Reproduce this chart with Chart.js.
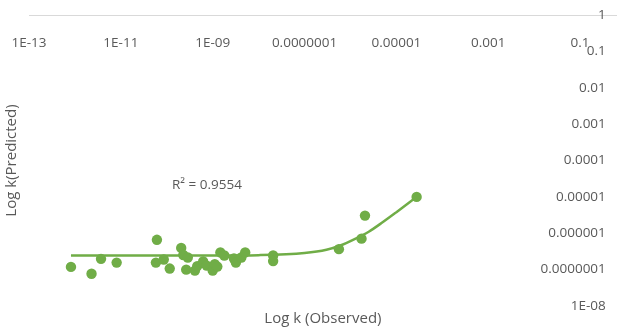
<!DOCTYPE html>
<html>
<head>
<meta charset="utf-8">
<script src="https://cdn.jsdelivr.net/npm/chart.js@4"></script>
<style>
  html, body { margin: 0; padding: 0; background: #fff; }
  #wrap { width: 622px; height: 328px; }
</style>
</head>
<body>
<div id="wrap"><canvas id="chart"></canvas></div>
<script>
// observed (x) vs predicted (y) rate constants
const observedK = [8.2e-13, 2.3e-12, 3.7e-12, 8.1e-12, 6.1e-11, 5.8e-11, 8.6e-11, 1.16e-10,
  2.06e-10, 2.29e-10, 2.87e-10, 2.65e-10, 4.1e-10, 4.6e-10, 6.2e-10, 7.4e-10, 1.0e-9,
  1.11e-9, 1.26e-9, 1.47e-9, 1.79e-9, 2.9e-9, 3.2e-9, 4.2e-9, 5.1e-9, 2.07e-8, 2.07e-8,
  5.6e-7, 1.74e-6, 2.07e-6, 2.76e-5];
const predictedK = [1.19e-7, 7.7e-8, 1.98e-7, 1.56e-7, 6.6e-7, 1.56e-7, 1.9e-7, 1.07e-7,
  3.96e-7, 2.53e-7, 2.15e-7, 1.0e-7, 9.4e-8, 1.25e-7, 1.67e-7, 1.29e-7, 9.4e-8,
  1.42e-7, 1.21e-7, 2.97e-7, 2.45e-7, 2.02e-7, 1.56e-7, 2.15e-7, 2.97e-7, 2.45e-7, 1.72e-7,
  3.66e-7, 7.1e-7, 3.06e-6, 1.0e-5];

// trendline as it appears on the chart
const trendX = [8.2e-13, 1e-9, 1e-8, 1e-7, 3e-7, 6e-7, 1.2e-6, 2.5e-6, 5e-6, 1e-5, 2.76e-5];
const trendY = [2.45e-7, 2.45e-7, 2.5e-7, 2.85e-7, 3.5e-7, 4.6e-7, 6.8e-7, 1.1e-6, 2.0e-6, 3.8e-6, 1.0e-5];

const xTickValues = [1e-13, 1e-11, 1e-9, 1e-7, 1e-5, 1e-3, 1e-1];
const xTickLabels = ['1E-13', '1E-11', '1E-09', '0.0000001', '0.00001', '0.001', '0.1'];
const yTickValues = [1, 1e-1, 1e-2, 1e-3, 1e-4, 1e-5, 1e-6, 1e-7, 1e-8];
const yTickLabels = ['1', '0.1', '0.01', '0.001', '0.0001', '0.00001', '0.000001', '0.0000001', '1E-08'];

const r2Text = 'R² = 0.9554';
const r2At = { x: 1.3e-10, y: 2.15e-5 };

const green = '#70AD47';
const textGrey = '#595959';
const fontFamily = "'Open Sans', 'Noto Sans', sans-serif";

const r2Label = {
  id: 'r2Label',
  afterDatasetsDraw(chart) {
    const ctx = chart.ctx;
    ctx.save();
    ctx.font = '13.5px ' + fontFamily;
    ctx.fillStyle = textGrey;
    ctx.textAlign = 'left';
    ctx.textBaseline = 'middle';
    ctx.fillText(r2Text, chart.scales.x.getPixelForValue(r2At.x), chart.scales.y.getPixelForValue(r2At.y));
    ctx.restore();
  }
};

new Chart(document.getElementById('chart'), {
  type: 'scatter',
  data: {
    datasets: [{
      label: 'Log k',
      data: observedK.map((v, i) => ({ x: v, y: predictedK[i] })),
      backgroundColor: green,
      borderWidth: 0,
      pointRadius: 5.2,
      order: 1
    }, {
      label: 'Trend',
      type: 'line',
      data: trendX.map((v, i) => ({ x: v, y: trendY[i] })),
      borderColor: green,
      borderWidth: 2.5,
      pointRadius: 0,
      cubicInterpolationMode: 'monotone',
      fill: false,
      order: 2
    }]
  },
  options: {
    responsive: true,
    maintainAspectRatio: false,
    animation: false,
    layout: { padding: { top: 15, right: 0, left: 0, bottom: 0 } },
    plugins: {
      legend: { display: false },
      tooltip: { enabled: false },
      title: {
        display: true,
        text: 'Log k (Observed)',
        position: 'bottom',
        fullSize: false,
        color: textGrey,
        font: { family: fontFamily, size: 15, weight: 'normal' },
        padding: { top: 4, bottom: 0 }
      },
      subtitle: {
        display: true,
        text: 'Log k(Predicted)',
        position: 'left',
        fullSize: false,
        color: textGrey,
        font: { family: fontFamily, size: 15, weight: 'normal' },
        padding: { top: 3, bottom: 8 }
      }
    },
    scales: {
      x: {
        type: 'logarithmic',
        position: { y: 1 },
        min: 1e-13,
        max: 0.63,
        afterBuildTicks: (scale) => { scale.ticks = xTickValues.map(v => ({ value: v })); },
        afterFit: (scale) => { scale.paddingLeft = 0; scale.paddingRight = 0; },
        ticks: {
          color: textGrey,
          font: { family: fontFamily, size: 13.5 },
          padding: 12,
          maxRotation: 0,
          autoSkip: false,
          callback: (value, i) => xTickLabels[i]
        },
        grid: { display: false },
        border: { display: true, color: '#D9D9D9', width: 1 }
      },
      y: {
        type: 'logarithmic',
        position: 'right',
        min: 1e-8,
        max: 1,
        afterBuildTicks: (scale) => { scale.ticks = yTickValues.map(v => ({ value: v })); },
        afterFit: (scale) => { scale.width = 0; },
        ticks: {
          color: textGrey,
          font: { family: fontFamily, size: 13.5 },
          mirror: true,
          padding: -11,
          autoSkip: false,
          callback: (value) => yTickLabels[yTickValues.indexOf(value)]
        },
        grid: { display: false },
        border: { display: false }
      }
    }
  },
  plugins: [r2Label]
});
</script>
</body>
</html>
